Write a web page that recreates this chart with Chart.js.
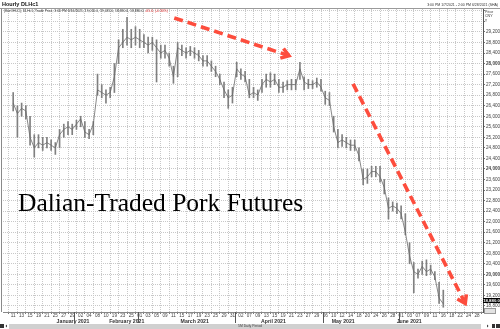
<!DOCTYPE html>
<html>
<head>
<meta charset="utf-8">
<script src="https://cdn.jsdelivr.net/npm/chart.js@4.4.0/dist/chart.umd.min.js"></script>
<style>
  html, body { margin: 0; padding: 0; background: #fff; }
  #wrap { position: relative; width: 500px; height: 329px; overflow: hidden; font-family: "Liberation Sans", Arial, sans-serif; }
  #porkChart { position: absolute; left: 0; top: 0; }
  .t { position: absolute; white-space: nowrap; line-height: 1; color: #333; }
  #title { left: 2px; top: 1.5px; font-size: 5.5px; font-weight: bold; color: #111; }
  #range { right: 2px; top: 3.5px; font-size: 3.5px; }
  #legend { left: 4px; top: 10px; font-size: 3.4px; }
  #legend .neg { color: #e03030; }
  #unit { left: 485px; top: 9.5px; font-size: 3.6px; line-height: 4.6px; }
  #last { left: 483px; top: 297.5px; width: 17px; height: 5.5px; background: #000; color: #fff; font-size: 4.3px; font-weight: bold; line-height: 5.5px; text-align: center; }
  #cursor { left: 484px; top: 307.5px; width: 10px; height: 4px; background: #e2e2e2; border: 0.5px solid #999; }
  #period { left: 238px; top: 324.5px; font-size: 3.4px; color: #444; }
  #caption { left: 18px; top: 190px; font-family: "Liberation Serif", "Times New Roman", serif; font-size: 25.5px; line-height: 26px; color: #000; }
</style>
</head>
<body>
<div id="wrap">
  <canvas id="porkChart" width="500" height="329"></canvas>
  <div class="t" id="title">Hourly DLHc1</div>
  <div class="t" id="range">3:00 PM 1/7/2021 - 2:00 PM 6/28/2021 (SHA)</div>
  <div class="t" id="legend">(BarOHLC), DLHc1, Trade Price, 3:00 PM 6/16/2021, 19,010.0, 19,035.0, 18,830.0, 18,880.0, <span class="neg">-65.0, (-0.34%)</span></div>
  <div class="t" id="unit">Price<br>CNY<br>¥</div>
  <div class="t" id="last">18,880.0</div>
  <div class="t" id="cursor"></div>
  <div class="t" id="period">5M Daily Period</div>
  <div class="t" id="caption">Dalian-Traded Pork Futures</div>
</div>
<script>
// trading days shown on the axis, per month
const months = ["January 2021", "February 2021", "March 2021", "April 2021", "May 2021", "June 2021"];
const tradingDays = [
  [11, 12, 13, 14, 15, 18, 19, 20, 21, 22, 25, 26, 27, 28, 29],
  [1, 2, 3, 4, 5, 8, 9, 10, 18, 19, 22, 23, 24, 25, 26],
  [1, 2, 3, 4, 5, 8, 9, 10, 11, 12, 15, 16, 17, 18, 19, 22, 23, 24, 25, 26, 29, 30, 31],
  [1, 2, 6, 7, 8, 9, 12, 13, 14, 15, 16, 19, 20, 21, 22, 23, 26, 27, 28, 29, 30],
  [6, 7, 10, 11, 12, 13, 14, 17, 18, 19, 20, 21, 24, 25, 26, 27, 28, 31],
  [1, 2, 3, 4, 7, 8, 9, 10, 11, 15, 16, 17, 18, 21, 22, 23, 24, 25, 28]
];

// daily close / high / low (CNY), one per trading day from Jan 11 to Jun 16
const closes = [
  26500, 26100, 26300, 26200, 25200, 24800, 25000, 24900, 25000, 24900,
  24800, 25300, 25500, 25600, 25500, 25700, 25900, 25400, 25300, 25700,
  27000, 26900, 26800, 26900, 27500, 28600, 28800, 29000, 28900, 29000,
  28900, 28800, 28700, 28800, 28600, 28400, 28500, 28200, 27500, 28600,
  28500, 28400, 28500, 28400, 28300, 28100, 28100, 27900, 27700, 27400,
  27000, 26700, 26800, 27800, 27600, 27500, 26800, 26900, 26800, 27200,
  27400, 27300, 27400, 27100, 27100, 27200, 27200, 27200, 27800, 27300,
  27200, 27200, 27300, 27100, 26700, 26600, 25600, 25000, 25100, 25000,
  24900, 24900, 24500, 23600, 23700, 23900, 23900, 23700, 23300, 22500,
  22600, 22500, 22300, 21600, 20700, 20100, 20000, 20300, 20100, 20200,
  19900, 19100, 18880
];
const highs = [
  26900, 26400, 26500, 26400, 26000, 25300, 25300, 25200, 25200, 25100,
  25000, 25500, 25700, 25800, 25700, 25850, 26000, 25800, 25500, 25800,
  27600, 27200, 27000, 27100, 28000, 28900, 29300, 29750, 29300, 29400,
  29300, 29100, 29000, 29000, 28900, 28700, 28700, 28400, 27900, 28800,
  28700, 28600, 28650, 28600, 28500, 28300, 28300, 28100, 27900, 27600,
  27300, 27000, 27100, 28050, 27800, 27700, 27400, 27100, 27000, 27400,
  27600, 27650, 27600, 27400, 27300, 27350, 27400, 27400, 28050, 27500,
  27400, 27350, 27450, 27400, 26950, 26900, 26000, 25500, 25300, 25200,
  25100, 25100, 24800, 24000, 24000, 24100, 24100, 24100, 23600, 22900,
  22750, 22700, 22600, 22300, 21200, 20450, 20200, 20500, 20550, 20350,
  20100, 19700, 19400
];
const lows = [
  26200, 25200, 26000, 25900, 24900, 24450, 24800, 24700, 24800, 24700,
  24550, 24800, 25200, 25300, 25300, 25500, 25600, 25200, 25150, 25300,
  26800, 26700, 26500, 26700, 26900, 28000, 28600, 28700, 28600, 28700,
  28600, 28600, 28400, 28500, 27300, 28200, 28200, 27900, 27250, 27500,
  28300, 28200, 28300, 28200, 28100, 27900, 27900, 27700, 27500, 27200,
  26700, 26300, 26500, 27500, 27400, 27300, 26700, 26700, 26600, 26900,
  27100, 27100, 27200, 26900, 26900, 27000, 27000, 27000, 27400, 27000,
  27050, 27050, 27100, 26950, 26450, 26400, 25400, 24800, 24850, 24800,
  24700, 24700, 24300, 23400, 23450, 23700, 23700, 23500, 23050, 22100,
  22400, 22300, 22100, 21500, 20400, 19300, 19850, 20000, 19950, 20000,
  19800, 18900, 18750
];

const priceTicks = [
  18800, 19200, 19600, 20000, 20400, 20800, 21200, 21600, 22000, 22400,
  22800, 23200, 23600, 24000, 24400, 24800, 25200, 25600, 26000, 26400,
  26800, 27200, 27600, 28000, 28400, 28800, 29200, 29600, 30000
];
const lastLabelled = 29200;

// trend arrows drawn on top, in (day index, price) units
const trendArrows = [
  [38.2, 29730, 65.4, 28300],
  [80.6, 27230, 107.2, 18900]
];

const X_MIN = -1.4, X_MAX = 110.4;
const Y_MIN = 18570, Y_MAX = 30070;

const dayLabels = [];
const monthSpans = [];
tradingDays.forEach(days => {
  const start = dayLabels.length;
  days.forEach(d => dayLabels.push(String(d).padStart(2, "0")));
  monthSpans.push([start, dayLabels.length - 1]);
});
const monthCenters = monthSpans.map(([a, b]) => (Math.max(a - 0.5, X_MIN) + Math.min(b + 0.5, X_MAX)) / 2);
const monthStarts = monthSpans.slice(1).map(([a]) => a - 0.5);

const FONT = "'Liberation Sans', Arial, sans-serif";

function drawArrow(ctx, x1, y1, x2, y2) {
  const a = Math.atan2(y2 - y1, x2 - x1);
  ctx.save();
  ctx.strokeStyle = "#fd4d3d";
  ctx.lineWidth = 3.6;
  ctx.setLineDash([9, 5]);
  ctx.beginPath();
  ctx.moveTo(x1, y1);
  ctx.lineTo(x2 - 3 * Math.cos(a), y2 - 3 * Math.sin(a));
  ctx.stroke();
  ctx.setLineDash([]);
  ctx.lineJoin = "miter";
  const h = 9;
  ctx.beginPath();
  ctx.moveTo(x2 - h * Math.cos(a - 0.6), y2 - h * Math.sin(a - 0.6));
  ctx.lineTo(x2, y2);
  ctx.lineTo(x2 - h * Math.cos(a + 0.6), y2 - h * Math.sin(a + 0.6));
  ctx.stroke();
  ctx.restore();
}

const decor = {
  id: "decor",
  beforeDraw(chart) {
    const ctx = chart.ctx;
    ctx.save();
    ctx.fillStyle = "#fff";
    ctx.fillRect(0, 0, chart.width, chart.height);
    ctx.restore();
  },
  afterDraw(chart) {
    const ctx = chart.ctx;
    const area = chart.chartArea;
    const xs = chart.scales.x, ys = chart.scales.y;
    ctx.save();
    // title bar rule + left frame
    ctx.fillStyle = "#9a9a9a";
    ctx.fillRect(0, 8, chart.width, 1);
    ctx.fillStyle = "#8a8a8a";
    ctx.fillRect(1, area.top, 1, area.bottom - area.top);
    // month separators
    ctx.fillStyle = "#555";
    monthStarts.forEach(v => {
      const px = Math.round(xs.getPixelForValue(v));
      ctx.fillRect(px, area.bottom, 1, 11);
    });
    // scrollbar
    ctx.fillStyle = "#d0d0d0";
    ctx.fillRect(9, 324, 472, 5);
    ctx.fillStyle = "#333";
    ctx.fillRect(0, 324, 4, 4);
    ctx.fillRect(492, 324, 3, 4);
    ctx.fillRect(496, 324, 4, 4);
    ctx.beginPath();
    ctx.moveTo(7, 324.5); ctx.lineTo(5.5, 326); ctx.lineTo(7, 327.5); ctx.fill();
    ctx.beginPath();
    ctx.moveTo(487, 324.5); ctx.lineTo(488.5, 326); ctx.lineTo(487, 327.5); ctx.fill();
    ctx.restore();
    trendArrows.forEach(([i1, p1, i2, p2]) => {
      drawArrow(ctx, xs.getPixelForValue(i1), ys.getPixelForValue(p1),
        xs.getPixelForValue(i2), ys.getPixelForValue(p2));
    });
  }
};

new Chart(document.getElementById("porkChart"), {
  type: "bar",
  data: {
    datasets: [
      {
        type: "line",
        data: closes.map((c, i) => ({ x: i, y: c })),
        borderColor: "#6a6a6a",
        borderWidth: 0.8,
        pointRadius: 0,
        tension: 0,
        order: 1
      },
      {
        type: "bar",
        data: closes.map((c, i) => ({ x: i, y: [lows[i], highs[i]] })),
        backgroundColor: "#808080",
        barThickness: 1,
        order: 2
      }
    ]
  },
  plugins: [decor],
  options: {
    responsive: false,
    animation: false,
    events: [],
    layout: { padding: { top: 9, left: 3, right: 0, bottom: 0 } },
    plugins: { legend: { display: false }, tooltip: { enabled: false } },
    scales: {
      x: {
        type: "linear",
        position: "bottom",
        weight: 0,
        min: X_MIN,
        max: X_MAX,
        afterBuildTicks: s => {
          s.ticks = dayLabels.map((_, i) => i).filter(i => i % 2 === 0).map(v => ({ value: v }));
        },
        afterFit: s => { s.height = 7; },
        ticks: {
          callback: v => dayLabels[v] || "",
          font: { size: 4.6, family: FONT },
          color: "#444",
          padding: -1,
          maxRotation: 0,
          autoSkip: false
        },
        grid: { color: "#c8c8c8", tickLength: 2, tickColor: "#777" },
        border: { color: "#888", dash: [1, 1] }
      },
      xm: {
        type: "linear",
        position: "bottom",
        weight: 1,
        min: X_MIN,
        max: X_MAX,
        afterBuildTicks: s => { s.ticks = monthCenters.map(v => ({ value: v })); },
        afterFit: s => { s.height = 10; },
        ticks: {
          callback: (v, i) => months[i],
          font: { size: 5.2, weight: "bold", family: FONT },
          color: "#333",
          padding: -1,
          maxRotation: 0,
          autoSkip: false
        },
        grid: { display: false, drawTicks: false },
        border: { display: false }
      },
      y: {
        type: "linear",
        position: "right",
        min: Y_MIN,
        max: Y_MAX,
        afterBuildTicks: s => { s.ticks = priceTicks.map(v => ({ value: v })); },
        afterFit: s => { s.width = 17; },
        ticks: {
          callback: v => v > lastLabelled ? "" : v.toLocaleString("en-US"),
          font: ctx => ({ size: 4.6, family: FONT, weight: ctx.tick && ctx.tick.value % 4000 === 0 ? "bold" : "normal" }),
          color: "#444",
          padding: 1,
          autoSkip: false
        },
        grid: { color: "#c8c8c8", tickLength: 2, tickColor: "#777" },
        border: { color: "#555", dash: [1, 1] }
      }
    }
  }
});
</script>
</body>
</html>
